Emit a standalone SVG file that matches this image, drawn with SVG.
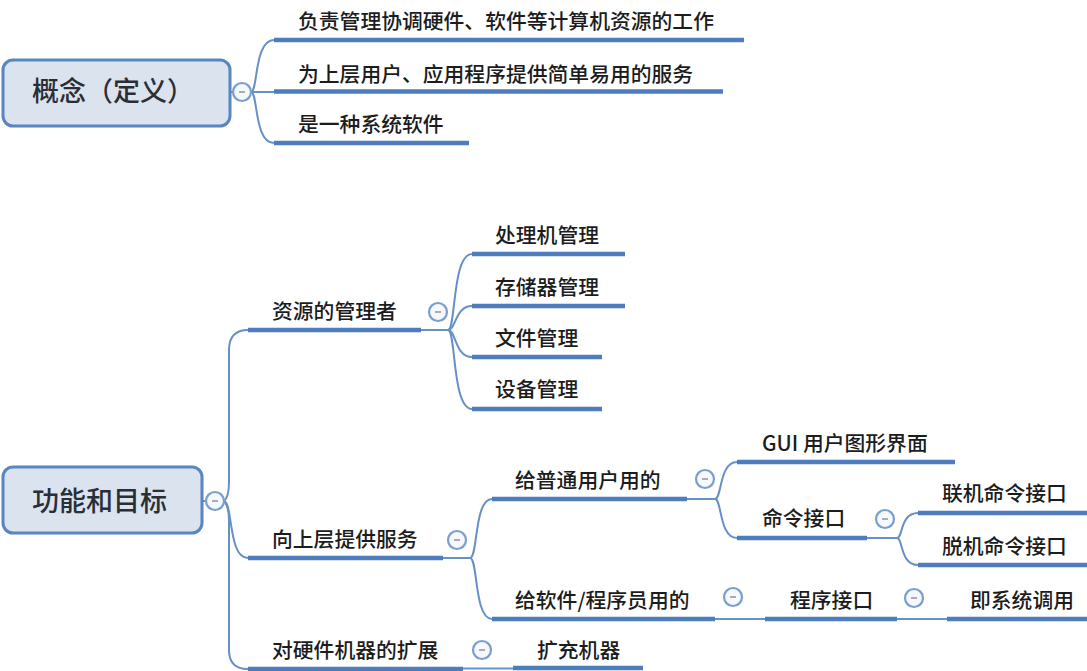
<svg xmlns="http://www.w3.org/2000/svg" width="1087" height="671" viewBox="0 0 1087 671">
<style>
.bg{fill:#ffffff}
.root rect{fill:#dbe3ee;stroke:#5985c0;stroke-width:3}
.root text{font-family:"Noto Sans CJK SC","Noto Sans",sans-serif;font-size:27px;fill:#2a2e36;font-weight:500}
.leaf text{font-family:"Noto Sans CJK SC","Noto Sans",sans-serif;font-size:20.8px;fill:#1c1c1c;font-weight:500}
.ul{stroke:#4d7dbd;stroke-width:4.5;fill:none}
.conn path,.conn line{stroke:#6690c8;stroke-width:2;fill:none}
.tog circle{fill:#f5f8fc;stroke:#7a9ecf;stroke-width:2.2}
.tog line{stroke:#a99fb2;stroke-width:1.8}
</style>
<rect class="bg" x="0" y="0" width="1087" height="671"/>

<g id="connectors" class="conn">
  <line x1="230" y1="92" x2="234" y2="92"/>
  <path d="M251,92 C258,92 254,40 274,40"/>
  <line x1="251" y1="92" x2="274" y2="92"/>
  <path d="M251,92 C258,92 254,143 274,143"/>
  <line x1="202" y1="501" x2="206" y2="501"/>
  <path d="M224,501 Q229,497 229,482 L229,350 Q229,330 248,330"/>
  <path d="M224,501 C233,503 228,558 248,558"/>
  <path d="M224,501 Q229,506 229,520 L229,650 Q229,669 248,669"/>
  <line x1="421" y1="330" x2="448" y2="330"/>
  <path d="M448,330 C456,330 452,254 472,254"/>
  <path d="M448,330 C456,330 455,306 472,306"/>
  <path d="M448,330 C456,330 455,357 472,357"/>
  <path d="M448,330 C456,330 452,409 472,409"/>
  <line x1="443" y1="558" x2="470" y2="558"/>
  <path d="M470,558 C478,558 474,499 492,499"/>
  <path d="M470,558 C478,558 474,619 492,619"/>
  <line x1="687" y1="499" x2="715" y2="499"/>
  <path d="M715,499 C722,499 719,462 737,462"/>
  <path d="M715,499 C722,499 719,538 737,538"/>
  <line x1="867" y1="538" x2="897" y2="538"/>
  <path d="M897,538 C903,538 900,513 918,513"/>
  <path d="M897,538 C903,538 900,565 918,565"/>
  <line x1="715" y1="619" x2="765" y2="619"/>
  <line x1="897" y1="619" x2="947" y2="619"/>
  <line x1="463" y1="668.5" x2="513" y2="668.5"/>
</g>

<g id="toggles" class="tog">
  <g><circle cx="242" cy="92" r="9"/><line x1="239" y1="92" x2="245" y2="92"/></g>
  <g><circle cx="215" cy="501" r="9"/><line x1="212" y1="501" x2="218" y2="501"/></g>
  <g><circle cx="438" cy="312" r="9"/><line x1="435" y1="312" x2="441" y2="312"/></g>
  <g><circle cx="457" cy="540" r="9"/><line x1="454" y1="540" x2="460" y2="540"/></g>
  <g><circle cx="705" cy="479" r="9"/><line x1="702" y1="479" x2="708" y2="479"/></g>
  <g><circle cx="885" cy="519" r="9"/><line x1="882" y1="519" x2="888" y2="519"/></g>
  <g><circle cx="733" cy="597" r="9"/><line x1="730" y1="597" x2="736" y2="597"/></g>
  <g><circle cx="914" cy="598" r="9"/><line x1="911" y1="598" x2="917" y2="598"/></g>
  <g><circle cx="482" cy="650" r="9"/><line x1="479" y1="650" x2="485" y2="650"/></g>
</g>

<g id="n-concept" class="root">
  <rect x="3" y="60" width="227" height="66" rx="10"/>
  <text x="32" y="101">概念（定义）</text>
</g>
<g id="n-function" class="root">
  <rect x="3" y="467" width="199" height="66" rx="10"/>
  <text x="32" y="511">功能和目标</text>
</g>

<g id="n-c1" class="leaf"><text x="298" y="28.5">负责管理协调硬件、软件等计算机资源的工作</text><line class="ul" x1="274" y1="40" x2="744" y2="40"/></g>
<g id="n-c2" class="leaf"><text x="298" y="81.5">为上层用户、应用程序提供简单易用的服务</text><line class="ul" x1="274" y1="91.5" x2="723" y2="91.5"/></g>
<g id="n-c3" class="leaf"><text x="298" y="131.5">是一种系统软件</text><line class="ul" x1="274" y1="143" x2="469" y2="143"/></g>

<g id="n-res" class="leaf"><text x="272" y="319">资源的管理者</text><line class="ul" x1="248" y1="330" x2="421" y2="330"/></g>
<g id="n-cpu" class="leaf"><text x="495" y="243">处理机管理</text><line class="ul" x1="472" y1="254" x2="625" y2="254"/></g>
<g id="n-mem" class="leaf"><text x="495" y="295">存储器管理</text><line class="ul" x1="472" y1="306" x2="625" y2="306"/></g>
<g id="n-file" class="leaf"><text x="495" y="346">文件管理</text><line class="ul" x1="472" y1="357" x2="602" y2="357"/></g>
<g id="n-dev" class="leaf"><text x="495" y="397">设备管理</text><line class="ul" x1="472" y1="409" x2="602" y2="409"/></g>

<g id="n-svc" class="leaf"><text x="272" y="547">向上层提供服务</text><line class="ul" x1="248" y1="558" x2="443" y2="558"/></g>
<g id="n-user" class="leaf"><text x="515" y="488">给普通用户用的</text><line class="ul" x1="492" y1="499" x2="687" y2="499"/></g>
<g id="n-gui" class="leaf"><text x="762" y="451">GUI 用户图形界面</text><line class="ul" x1="737" y1="462" x2="955" y2="462"/></g>
<g id="n-cmd" class="leaf"><text x="762" y="526">命令接口</text><line class="ul" x1="737" y1="538" x2="867" y2="538"/></g>
<g id="n-online" class="leaf"><text x="942" y="501">联机命令接口</text><line class="ul" x1="918" y1="513" x2="1087" y2="513"/></g>
<g id="n-offline" class="leaf"><text x="942" y="554">脱机命令接口</text><line class="ul" x1="918" y1="565" x2="1087" y2="565"/></g>
<g id="n-prog" class="leaf"><text x="515" y="608">给软件/程序员用的</text><line class="ul" x1="492" y1="619" x2="715" y2="619"/></g>
<g id="n-api" class="leaf"><text x="790" y="608">程序接口</text><line class="ul" x1="765" y1="619" x2="897" y2="619"/></g>
<g id="n-syscall" class="leaf"><text x="970" y="608">即系统调用</text><line class="ul" x1="947" y1="619" x2="1087" y2="619"/></g>

<g id="n-ext" class="leaf"><text x="272" y="658">对硬件机器的扩展</text><line class="ul" x1="248" y1="669" x2="463" y2="669"/></g>
<g id="n-vm" class="leaf"><text x="537" y="658">扩充机器</text><line class="ul" x1="513" y1="668" x2="643" y2="668"/></g>
</svg>
